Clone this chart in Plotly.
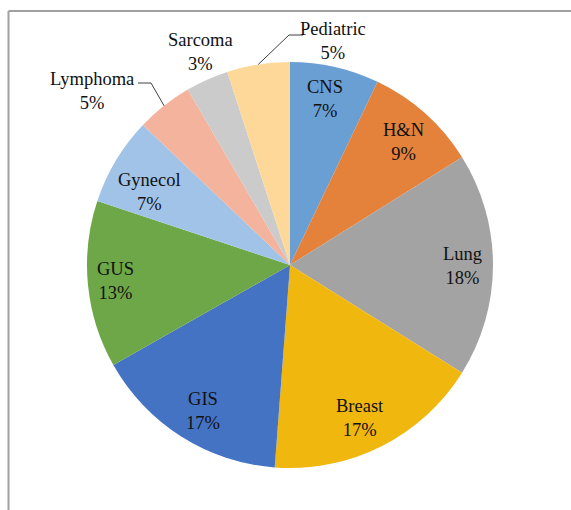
import math
import plotly.graph_objects as go

# ---- data ----
categories = ["CNS", "H&N", "Lung", "Breast", "GIS", "GUS", "Gynecol", "Lymphoma", "Sarcoma", "Pediatric"]
shares = [7.1, 9.0, 17.8, 17.3, 15.6, 13.3, 7.0, 4.5, 3.4, 5.0]
percent_labels = ["7%", "9%", "18%", "17%", "17%", "13%", "7%", "5%", "3%", "5%"]
colors = ["#6A9FD4", "#E4823C", "#A3A3A3", "#F0B70F", "#4473C3",
          "#6EA747", "#A1C3E7", "#F3B39C", "#CBCBCB", "#FDD898"]

# ---- layout constants (pixels in the 571x510 window) ----
W, H = 571, 510
CX, CY, R = 290, 265, 203
LABEL_POS = {
    "CNS": (325, 99), "H&N": (403, 142), "Lung": (462, 266), "Breast": (360, 418),
    "GIS": (203, 411), "GUS": (115, 281), "Gynecol": (149, 192),
    "Lymphoma": (92, 91), "Sarcoma": (200, 52), "Pediatric": (333, 41),
}
LEADERS = {"Lymphoma": [(138, 83), (151, 83)], "Pediatric": [(303, 35), (289, 35)]}
FONT = dict(family="Liberation Serif, Times New Roman, serif", size=18.5, color="#111111")


def px(x):
    return x / W


def py(y):
    return 1 - y / H


fig = go.Figure(go.Pie(
    labels=categories,
    values=shares,
    sort=False,
    direction="clockwise",
    rotation=0,
    textinfo="none",
    hoverinfo="label+percent",
    marker=dict(colors=colors, line=dict(width=0)),
    domain=dict(x=[px(CX - R), px(CX + R)], y=[py(CY + R), py(CY - R)]),
    showlegend=False,
))

total = sum(shares)
annotations = []
shapes = []
cum = 0.0
for cat, val, pct in zip(categories, shares, percent_labels):
    mid = (cum + val / 2) / total * 2 * math.pi
    cum += val
    lx, ly = LABEL_POS[cat]
    annotations.append(dict(
        x=px(lx), y=py(ly), xref="paper", yref="paper",
        text=f"{cat}<br>{pct}", showarrow=False, font=FONT,
        xanchor="center", yanchor="middle", align="center",
    ))
    if cat in LEADERS:
        ex = CX + R * math.sin(mid)
        ey = CY - R * math.cos(mid)
        pts = LEADERS[cat] + [(ex, ey)]
        path = "M " + " L ".join(f"{px(x):.5f},{py(y):.5f}" for x, y in pts)
        shapes.append(dict(type="path", path=path, xref="paper", yref="paper",
                           line=dict(color="#404040", width=1)))

# chart-area border (top and left visible; right/bottom run off the image)
shapes.append(dict(type="line", xref="paper", yref="paper",
                   x0=px(8.5), x1=1, y0=py(11), y1=py(11),
                   line=dict(color="#A0A0A0", width=2), layer="below"))
shapes.append(dict(type="line", xref="paper", yref="paper",
                   x0=px(8.5), x1=px(8.5), y0=py(11), y1=0,
                   line=dict(color="#A0A0A0", width=2), layer="below"))

fig.update_layout(
    width=W, height=H, autosize=False,
    margin=dict(l=0, r=0, t=0, b=0),
    paper_bgcolor="white", plot_bgcolor="white",
    annotations=annotations, shapes=shapes,
)

fig.write_html(
    "out.html",
    config={"displayModeBar": False},
    post_script="document.body.style.margin='0';document.body.style.overflow='hidden';",
)
